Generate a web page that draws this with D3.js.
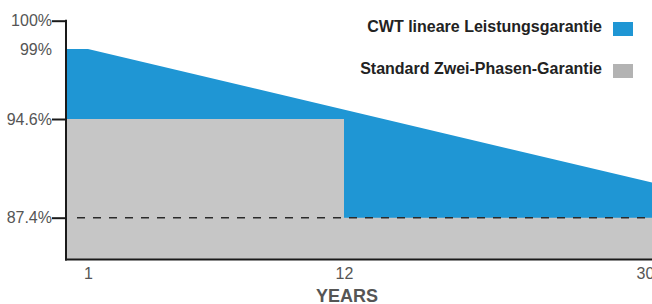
<!DOCTYPE html>
<html>
<head>
<meta charset="utf-8">
<script src="https://cdn.jsdelivr.net/npm/d3@7"></script>
<style>
  html, body { margin: 0; padding: 0; background: #fff; }
  svg { display: block; }
  text { font-family: "Liberation Sans", Arial, Helvetica, sans-serif; }
</style>
</head>
<body>
<div id="chart"></div>
<script>
// ---- data ----
const blueYears = [0, 1, 31];
const blueValues = [99, 99, 89.8];
const grayYears = [0, 12, 31];
const grayValues = [94.6, 87.4, 87.4];
const dashYears = [0.5, 31];
const dashValue = 87.4;
const yTickValues = [100, 99, 94.6, 87.4];
const yTickLabels = ["100%", "99%", "94.6%", "87.4%"];
const xTickValues = [1, 12, 30];
const xTickLabels = ["1", "12", "30"];
const legendLabels = ["CWT lineare Leistungsgarantie", "Standard Zwei-Phasen-Garantie"];
const legendColors = ["#1f96d4", "#b3b3b3"];
const xTitle = "YEARS";

// ---- layout ----
const W = 652, H = 304;
const svg = d3.select("#chart").append("svg").attr("width", W).attr("height", H);

// illustrative (non-linear) scales, as in the original artwork
const x = d3.scaleLinear().domain([0, 1, 12, 30]).range([66, 88, 344, 645]);
const y = d3.scaleLinear().domain([84.4, 87.4, 94.6, 99, 100]).range([259.5, 217.7, 119, 49, 20.7]);

const plotLeft = x(0), plotRight = W, plotBottom = y(84.4);

svg.append("clipPath").attr("id", "plotclip")
  .append("rect").attr("x", plotLeft).attr("y", 0)
  .attr("width", plotRight - plotLeft).attr("height", plotBottom);

const g = svg.append("g").attr("clip-path", "url(#plotclip)");

const blueData = blueYears.map((d, i) => ({ x: d, v: blueValues[i] }));
const grayData = grayYears.map((d, i) => ({ x: d, v: grayValues[i] }));

g.append("path")
  .datum(blueData)
  .attr("fill", "#1f96d4")
  .attr("d", d3.area().x(d => x(d.x)).y0(plotBottom).y1(d => y(d.v)));

g.append("path")
  .datum(grayData)
  .attr("fill", "#c6c6c6")
  .attr("d", d3.area().curve(d3.curveStepAfter).x(d => x(d.x)).y0(plotBottom).y1(d => y(d.v)));

g.append("line")
  .attr("x1", x(dashYears[0])).attr("x2", x(dashYears[1]))
  .attr("y1", y(dashValue)).attr("y2", y(dashValue))
  .attr("stroke", "#2a2a2a").attr("stroke-width", 1.5)
  .attr("stroke-dasharray", "8,8");

// ---- y axis ----
const yAxis = d3.axisLeft(y)
  .tickValues(yTickValues)
  .tickFormat((d, i) => yTickLabels[i])
  .tickSize(14).tickSizeOuter(0).tickPadding(0);
const ya = svg.append("g").attr("transform", `translate(${plotLeft},0)`).call(yAxis);
ya.select(".domain").remove();
ya.selectAll(".tick line").attr("stroke", "#1a1a1a").attr("stroke-width", 2)
  .filter(d => d === 99).remove();
ya.selectAll(".tick text").attr("fill", "#555").style("font-size", "16px");
svg.append("line")
  .attr("x1", plotLeft).attr("x2", plotLeft)
  .attr("y1", y(100) - 1).attr("y2", plotBottom + 1)
  .attr("stroke", "#1a1a1a").attr("stroke-width", 2);

// ---- x axis ----
const xAxis = d3.axisBottom(x)
  .tickValues(xTickValues)
  .tickFormat((d, i) => xTickLabels[i])
  .tickSize(0).tickPadding(8);
const xa = svg.append("g").attr("transform", `translate(0,${plotBottom})`).call(xAxis);
xa.select(".domain").remove();
xa.selectAll(".tick text").attr("fill", "#555").style("font-size", "16px");
svg.append("line")
  .attr("x1", plotLeft - 1).attr("x2", W)
  .attr("y1", plotBottom).attr("y2", plotBottom)
  .attr("stroke", "#1a1a1a").attr("stroke-width", 2);

svg.append("text")
  .attr("x", (x(12) + 3)).attr("y", 302)
  .attr("text-anchor", "middle")
  .attr("fill", "#555")
  .style("font-size", "18px").style("font-weight", "bold")
  .text(xTitle);

// ---- legend ----
const legend = svg.append("g");
legendLabels.forEach((lab, i) => {
  const yy = 22 + i * 42;
  legend.append("rect").attr("x", 613).attr("y", yy).attr("width", 20).attr("height", 14)
    .attr("fill", legendColors[i]);
  legend.append("text").attr("x", 602).attr("y", yy + 9.5)
    .attr("text-anchor", "end")
    .attr("fill", "#222")
    .style("font-size", "16px").style("font-weight", "bold")
    .text(lab);
});
</script>
</body>
</html>
